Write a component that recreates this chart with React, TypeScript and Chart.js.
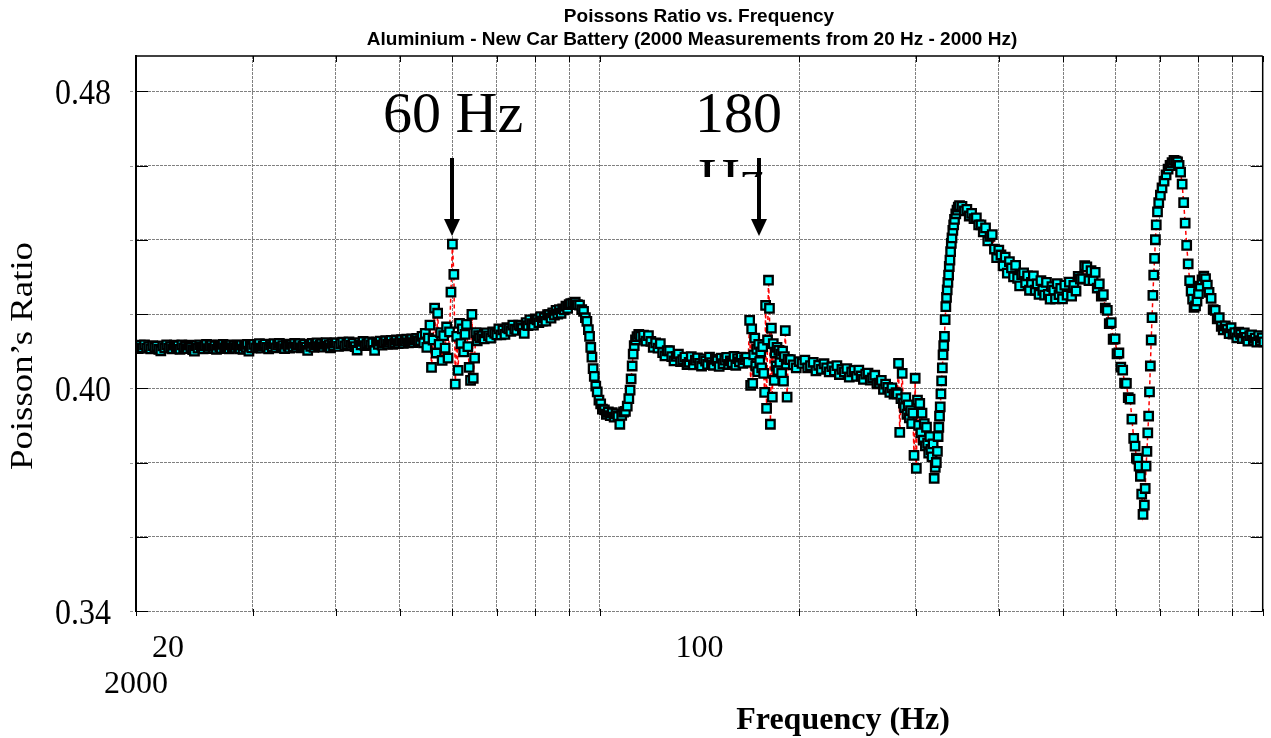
import React, { useEffect, useRef } from 'react';
import { Chart, registerables } from 'chart.js';

Chart.register(...registerables);

// ---------------- DATA (frequency in Hz, Poisson's ratio) ----------------
const lowFreq = [
  20.00, 20.15, 20.30, 20.45, 20.60, 20.75, 20.90, 21.05, 21.20, 21.35,
  21.50, 21.65, 21.80, 21.95, 22.10, 22.25, 22.40, 22.55, 22.70, 22.85,
  23.00, 23.15, 23.30, 23.45, 23.60, 23.75, 23.90, 24.05, 24.20, 24.35,
  24.50, 24.65, 24.80, 24.95, 25.10, 25.25, 25.40, 25.55, 25.70, 25.85,
  26.00, 26.15, 26.30, 26.45, 26.60, 26.75, 26.90, 27.05, 27.20, 27.35,
  27.50, 27.65, 27.80, 27.95, 28.10, 28.25, 28.40, 28.55, 28.70, 28.85,
  29.00, 29.15, 29.30, 29.45, 29.60, 29.75, 29.90,
  30.10, 30.30, 30.50, 30.70, 30.90, 31.10, 31.30, 31.50, 31.70, 31.90,
  32.10, 32.30, 32.50, 32.70, 32.90, 33.10, 33.30, 33.50, 33.70, 33.90,
  34.10, 34.30, 34.50, 34.70, 34.90, 35.10, 35.30, 35.50, 35.70, 35.90,
  36.10, 36.30, 36.50, 36.70, 36.90, 37.10, 37.30, 37.50, 37.70, 37.90,
  38.10, 38.30, 38.50, 38.70, 38.90, 39.10, 39.30, 39.50, 39.70, 39.90,
  40.1, 40.4, 40.7, 41.0, 41.3, 41.6, 41.9, 42.2, 42.5, 42.8,
  43.1, 43.4, 43.7, 44.0, 44.3, 44.6, 44.9, 45.2, 45.5, 45.8,
  46.1, 46.4, 46.7, 47.0, 47.3, 47.6, 47.9, 48.2, 48.5, 48.8,
  49.1, 49.4, 49.7, 50.0, 50.3, 50.6, 50.9, 51.2, 51.5, 51.8,
  52.1, 52.4, 52.7, 53.0, 53.3,
];
const lowVal = [
  0.4114, 0.4107, 0.4116, 0.4109, 0.4117, 0.4108, 0.4112, 0.4106, 0.4115, 0.4110,
  0.4113, 0.4105, 0.4101, 0.4114, 0.4109, 0.4117, 0.4108, 0.4112, 0.4106, 0.4116,
  0.4110, 0.4114, 0.4105, 0.4117, 0.4109, 0.4113, 0.4107, 0.4116, 0.4110, 0.4104,
  0.4100, 0.4115, 0.4108, 0.4117, 0.4111, 0.4106, 0.4114, 0.4118, 0.4107, 0.4113,
  0.4117, 0.4108, 0.4114, 0.4105, 0.4116, 0.4111, 0.4107, 0.4118, 0.4109, 0.4115,
  0.4110, 0.4106, 0.4117, 0.4109, 0.4114, 0.4108, 0.4116, 0.4111, 0.4106, 0.4117,
  0.4105, 0.4115, 0.4110, 0.4118, 0.4100, 0.4113, 0.4109,
  0.4118, 0.4109, 0.4115, 0.4120, 0.4108, 0.4114, 0.4119, 0.4110, 0.4106, 0.4117,
  0.4112, 0.4120, 0.4109, 0.4116, 0.4121, 0.4111, 0.4115, 0.4107, 0.4119, 0.4113,
  0.4108, 0.4118, 0.4112, 0.4121, 0.4110, 0.4116, 0.4120, 0.4109, 0.4114, 0.4119,
  0.4111, 0.4102, 0.4118, 0.4113, 0.4121, 0.4110, 0.4117, 0.4122, 0.4112, 0.4116,
  0.4120, 0.4111, 0.4118, 0.4123, 0.4113, 0.4117, 0.4109, 0.4121, 0.4115, 0.4122,
  0.4122, 0.4113, 0.4120, 0.4124, 0.4114, 0.4119, 0.4125, 0.4116, 0.4121, 0.4112,
  0.4103, 0.4123, 0.4117, 0.4126, 0.4115, 0.4120, 0.4125, 0.4117, 0.4122, 0.4102,
  0.4124, 0.4118, 0.4127, 0.4116, 0.4122, 0.4128, 0.4119, 0.4124, 0.4129, 0.4118,
  0.4123, 0.4130, 0.4120, 0.4126, 0.4131, 0.4121, 0.4127, 0.4132, 0.4122, 0.4128,
  0.4133, 0.4123, 0.4130, 0.4134, 0.4127,
];

const hum60Freq = [
  53.7, 54.0, 54.3, 54.6, 54.9, 55.2, 55.5, 55.8, 56.1, 56.4,
  56.7, 57.0, 57.3, 57.6, 57.9, 58.2, 58.5, 58.8, 59.1, 59.4,
  59.7, 60.0, 60.3, 60.6, 60.9, 61.2, 61.5, 61.8, 62.1, 62.4,
  62.7, 63.0, 63.3, 63.6, 63.9, 64.2, 64.5, 64.8, 65.1, 65.4,
  65.7, 66.0,
];
const hum60Val = [
  0.4128, 0.4140, 0.4122, 0.4148, 0.4110, 0.4135, 0.4170, 0.4056, 0.4130, 0.4216,
  0.4095, 0.4202, 0.4118, 0.4150, 0.4075, 0.4142, 0.4108, 0.4165, 0.4081, 0.4152,
  0.4259, 0.4388, 0.4307, 0.4011, 0.4140, 0.4048, 0.4175, 0.4120, 0.4160, 0.4098,
  0.4145, 0.4172, 0.4112, 0.4056, 0.4021, 0.4199, 0.4027, 0.4081, 0.4150, 0.4128,
  0.4142, 0.4136,
];

const riseAFreq = [
  66.5, 67.0, 67.5, 68.0, 68.5, 69.0, 69.5, 70.0, 70.5, 71.0,
  71.5, 72.0, 72.5, 73.0, 73.5, 74.0, 74.5, 75.0, 75.5, 76.0,
  76.5, 77.0, 77.5, 78.0, 78.5, 79.0, 79.5, 80.0, 80.5, 81.0,
  81.5, 82.0, 82.5, 83.0, 83.5, 84.0, 84.5, 85.0, 85.5, 86.0,
  86.5, 87.0, 87.5, 88.0, 88.5, 89.0, 89.5, 90.0, 90.5,
];
const riseAVal = [
  0.4141, 0.4133, 0.4149, 0.4141, 0.4135, 0.4152, 0.4148, 0.4144, 0.4160, 0.4144,
  0.4157, 0.4145, 0.4163, 0.4160, 0.4153, 0.4170, 0.4159, 0.4156, 0.4170, 0.4168,
  0.4161, 0.4148, 0.4177, 0.4169, 0.4184, 0.4174, 0.4170, 0.4187, 0.4184, 0.4177,
  0.4193, 0.4181, 0.4190, 0.4181, 0.4198, 0.4198, 0.4189, 0.4203, 0.4197, 0.4210,
  0.4200, 0.4212, 0.4202, 0.4214, 0.4211, 0.4221, 0.4215, 0.4225, 0.4228,
];

const dipAFreq = [
  91.2, 91.9, 92.6, 93.3, 94.0, 94.6, 95.2, 95.7, 96.2, 96.6,
  97.0, 97.4, 97.8, 98.2, 98.7, 99.2, 99.8, 100.4, 101.0, 101.7,
  102.4, 103.1, 103.8, 104.5, 105.2, 105.9, 106.6, 107.3, 108.0, 108.7,
  109.4, 110.1, 110.7, 111.2, 111.6, 112.0, 112.4, 112.8, 113.3, 113.9,
  114.6, 115.3,
];
const dipAVal = [
  0.4229, 0.4232, 0.4225, 0.4224, 0.4212, 0.4207, 0.4190, 0.4180, 0.4158, 0.4140,
  0.4110, 0.4084, 0.4053, 0.4032, 0.4006, 0.3990, 0.3968, 0.3958, 0.3944, 0.3942,
  0.3930, 0.3936, 0.3926, 0.3934, 0.3922, 0.3931, 0.3924, 0.3903, 0.3927, 0.3936,
  0.3938, 0.3952, 0.3972, 0.3995, 0.4025, 0.4060, 0.4092, 0.4115, 0.4130, 0.4139,
  0.4145, 0.4140,
];

const plateauFreq = [
  116.5, 117.5, 118.5, 119.5, 120.5, 121.5, 122.5, 123.5, 124.5, 125.5,
  126.5, 127.5, 128.5, 129.5, 130.5, 131.5, 132.5, 133.5, 134.5, 135.5,
  136.5, 137.5, 138.5, 139.5, 140.5, 141.5, 142.5, 143.5, 144.5, 145.5,
  146.5, 147.5, 148.5, 149.5, 150.5, 151.5, 152.5, 153.5, 154.5, 155.5,
  156.5, 157.5, 158.5, 159.5, 160.5, 161.5, 162.5, 163.5, 164.5, 165.5,
  166.5, 167.5,
];
const plateauVal = [
  0.4143, 0.4127, 0.4142, 0.4126, 0.4110, 0.4122, 0.4108, 0.4120, 0.4096, 0.4087,
  0.4101, 0.4101, 0.4085, 0.4074, 0.4086, 0.4092, 0.4072, 0.4077, 0.4084, 0.4064,
  0.4070, 0.4085, 0.4063, 0.4076, 0.4082, 0.4067, 0.4060, 0.4079, 0.4073, 0.4064,
  0.4084, 0.4069, 0.4062, 0.4078, 0.4074, 0.4059, 0.4081, 0.4066, 0.4076, 0.4083,
  0.4064, 0.4074, 0.4069, 0.4086, 0.4062, 0.4080, 0.4071, 0.4084, 0.4067, 0.4077,
  0.4083, 0.4070,
];

const hum180Freq = [
  168.4, 169.0, 169.6, 170.2, 170.8, 171.4, 172.0, 172.6, 173.2, 173.8,
  174.4, 175.0, 175.6, 176.2, 176.8, 177.4, 178.0, 178.6, 179.2, 179.8,
  180.4, 181.0, 181.6, 182.2, 182.8, 183.4, 184.0, 184.6, 185.2, 185.8,
  186.4, 187.0, 187.6, 188.2, 188.8, 189.4, 190.0, 190.6, 191.2, 191.8,
  192.4,
];
const hum180Val = [
  0.4183, 0.4008, 0.4160, 0.4013, 0.4090, 0.4135, 0.4060, 0.4105, 0.4045, 0.4118,
  0.4072, 0.4098, 0.4055, 0.4112, 0.4040, 0.3989, 0.4223, 0.3946, 0.4130, 0.4291,
  0.4215, 0.3903, 0.4162, 0.3976, 0.4120, 0.4021, 0.4095, 0.4060, 0.4110, 0.4048,
  0.4102, 0.4070, 0.4092, 0.4040, 0.4100, 0.4019, 0.4085, 0.4155, 0.4065, 0.3976,
  0.4078,
];

const slopeFreq = [
  194, 196, 198, 200, 202, 204, 206, 208, 210, 212,
  214, 216, 218, 220, 222, 224, 226, 228, 230, 232,
  234, 236, 238, 240, 242, 244, 246, 248, 250, 252,
  254, 256, 258, 260, 262, 264, 266, 268, 270, 272,
  274, 276, 278, 280,
];
const slopeVal = [
  0.4077, 0.4063, 0.4055, 0.4072, 0.4067, 0.4076, 0.4055, 0.4061, 0.4070, 0.4047,
  0.4062, 0.4051, 0.4066, 0.4055, 0.4044, 0.4058, 0.4047, 0.4061, 0.4037, 0.4051,
  0.4044, 0.4053, 0.4030, 0.4044, 0.4048, 0.4032, 0.4049, 0.4033, 0.4024, 0.4038,
  0.4041, 0.4022, 0.4028, 0.4035, 0.4012, 0.4014, 0.4021, 0.3997, 0.4011, 0.4002,
  0.3989, 0.4001, 0.3984, 0.3988,
];

const scatterFreq = [
  281.2, 282.4, 283.6, 284.8, 286.0, 287.2, 288.4, 289.6, 290.8, 292.0,
  293.2, 294.4, 295.6, 296.8, 298.0, 299.2, 300.4, 301.6, 302.8, 304.0,
  305.2, 306.4, 307.6, 308.8, 310.0, 311.2, 312.4, 313.6, 314.8, 316.0,
  317.2, 318.4, 319.6, 320.8, 322.0, 323.2,
];
const scatterVal = [
  0.3985, 0.4067, 0.3881, 0.3972, 0.4040, 0.3960, 0.3948, 0.3975, 0.3930, 0.3955,
  0.3920, 0.3940, 0.3905, 0.3933, 0.3819, 0.4027, 0.3784, 0.3968, 0.3900, 0.3959,
  0.3880, 0.3933, 0.3860, 0.3905, 0.3845, 0.3895, 0.3852, 0.3825, 0.3870, 0.3835,
  0.3815, 0.3850, 0.3757, 0.3787, 0.3800, 0.3830,
];

const riseBFreq = [
  324.0, 324.8, 325.6, 326.4, 327.2, 328.0, 328.8, 329.6, 330.4, 331.2,
  332.0, 332.8, 333.6, 334.4, 335.2, 336.0, 336.8, 337.6, 338.4, 339.2,
  340.0, 341.0, 342.0, 343.0, 344.5, 346.0, 347.5, 349.0,
];
const riseBVal = [
  0.3870, 0.3895, 0.3925, 0.3950, 0.3985, 0.4020, 0.4055, 0.4090, 0.4115, 0.4140,
  0.4185, 0.4220, 0.4245, 0.4265, 0.4285, 0.4305, 0.4328, 0.4345, 0.4368, 0.4390,
  0.4405, 0.4425, 0.4440, 0.4455, 0.4470, 0.4480, 0.4488, 0.4492,
];

const declineFreq = [
  352, 355, 358, 361, 364, 367, 370, 373, 376, 379,
  382, 385, 388, 391, 394, 397, 400, 403, 406, 409,
  412, 415, 418, 421, 424, 427, 430, 433, 436, 439,
  442, 445, 448, 451, 454, 457, 460, 463, 466, 469,
  472, 475, 478, 481, 484, 487, 490, 493, 496, 499,
  503, 507, 511, 515, 519, 523, 527, 531, 535, 539,
  543, 547, 551, 555, 559, 563, 567, 571, 575, 579,
  583, 587, 591, 595, 599, 603, 607, 611, 615, 619,
  623, 627, 631, 635, 639,
  642, 645, 648, 651, 654, 657, 660,
];
const declineVal = [
  0.4490, 0.4478, 0.4482, 0.4464, 0.4471, 0.4457, 0.4459, 0.4440, 0.4440, 0.4421,
  0.4432, 0.4397, 0.4409, 0.4414, 0.4375, 0.4352, 0.4372, 0.4359, 0.4330, 0.4353,
  0.4310, 0.4341, 0.4324, 0.4300, 0.4331, 0.4296, 0.4276, 0.4306, 0.4311, 0.4284,
  0.4303, 0.4264, 0.4285, 0.4303, 0.4264, 0.4281, 0.4253, 0.4290, 0.4264, 0.4251,
  0.4285, 0.4253, 0.4240, 0.4274, 0.4264, 0.4241, 0.4282, 0.4252, 0.4269, 0.4241,
  0.4278, 0.4251, 0.4286, 0.4248, 0.4277, 0.4262, 0.4301, 0.4294, 0.4295, 0.4330,
  0.4327, 0.4290, 0.4317, 0.4290, 0.4312, 0.4270, 0.4281, 0.4248, 0.4252, 0.4216,
  0.4210, 0.4174, 0.4177, 0.4132, 0.4133, 0.4093, 0.4095, 0.4057, 0.4049, 0.4014,
  0.4013, 0.3975, 0.3971, 0.3917, 0.3865,
  0.3844, 0.3812, 0.3809, 0.3790, 0.3763, 0.3715, 0.3660,
];

const riseCFreq = [
  663, 665, 667, 669, 671, 673, 675, 677, 679, 681,
  683, 685, 687, 689, 691, 694, 697, 701, 705, 710,
  715, 720, 725, 730, 735, 740,
];
const riseCVal = [
  0.3685, 0.3730, 0.3790, 0.3830, 0.3880, 0.3925, 0.3990, 0.4060, 0.4130, 0.4190,
  0.4250, 0.4305, 0.4350, 0.4400, 0.4440, 0.4475, 0.4500, 0.4520, 0.4540, 0.4558,
  0.4575, 0.4590, 0.4600, 0.4608, 0.4614, 0.4612,
];

const tailFreq = [
  744, 748, 752, 756, 760, 764, 768, 772, 776, 780,
  784, 788, 792, 796, 800, 805, 810, 815, 820, 825,
  830, 836, 842, 848, 854, 860, 866, 872, 878, 884,
  890, 896, 902, 908, 914, 920, 926, 932, 938, 944,
  950, 956, 962, 968, 974, 980, 986, 992, 998, 1004,
];
const tailVal = [
  0.4610, 0.4600, 0.4582, 0.4550, 0.4500, 0.4445, 0.4385, 0.4335, 0.4290, 0.4262,
  0.4240, 0.4218, 0.4222, 0.4235, 0.4255, 0.4275, 0.4292, 0.4302, 0.4295, 0.4278,
  0.4258, 0.4242, 0.4212, 0.4210, 0.4187, 0.4190, 0.4167, 0.4157, 0.4168, 0.4159,
  0.4147, 0.4163, 0.4146, 0.4150, 0.4136, 0.4151, 0.4145, 0.4134, 0.4149, 0.4137,
  0.4127, 0.4142, 0.4144, 0.4129, 0.4135, 0.4124, 0.4142, 0.4128, 0.4136, 0.4125,
];

// axes
const xGridValues = [20, 30, 40, 50, 60, 70, 80, 90, 100, 200, 300, 400, 500, 600, 700, 800, 900, 1000];
const yGridValues = [0.34, 0.36, 0.38, 0.40, 0.42, 0.44, 0.46, 0.48];
const yTickValues = [0.48, 0.40, 0.34];
const yTickLabels = ['0.48', '0.40', '0.34'];
const xTickLabels = ['20', '100', '2000'];
const titleLines = [
  'Poissons Ratio vs. Frequency',
  'Aluminium - New Car Battery (2000 Measurements from 20 Hz - 2000 Hz)',
];
const xAxisTitle = 'Frequency (Hz)';
const yAxisTitle = 'Poisson\u2019s Ratio';
const annotationFreqs = [60, 174];

const segments: [number[], number[]][] = [
  [lowFreq, lowVal],
  [hum60Freq, hum60Val],
  [riseAFreq, riseAVal],
  [dipAFreq, dipAVal],
  [plateauFreq, plateauVal],
  [hum180Freq, hum180Val],
  [slopeFreq, slopeVal],
  [scatterFreq, scatterVal],
  [riseBFreq, riseBVal],
  [declineFreq, declineVal],
  [riseCFreq, riseCVal],
  [tailFreq, tailVal],
];

const SERIF = '"Liberation Serif", "Times New Roman", serif';
const SANS = '"Liberation Sans", Arial, sans-serif';

const overlayPlugin = {
  id: 'overlay',
  afterDatasetsDraw(chart: any) {
    const { ctx, chartArea: a, scales } = chart;
    const xs = scales.x;
    const ys = scales.y;
    const seg = (x1: number, y1: number, x2: number, y2: number) => {
      ctx.beginPath();
      ctx.moveTo(x1, y1);
      ctx.lineTo(x2, y2);
      ctx.stroke();
    };
    ctx.save();
    ctx.setLineDash([]);
    ctx.strokeStyle = '#000';
    // frame
    ctx.lineWidth = 2;
    seg(a.left, a.top - 1, a.left, a.bottom + 1);
    ctx.lineWidth = 1.5;
    seg(a.left, a.top, a.right, a.top);
    seg(a.right, a.top, a.right, a.bottom);
    // tick marks
    ctx.lineWidth = 1;
    xGridValues.forEach((v) => {
      const px = Math.round(xs.getPixelForValue(v)) + 0.5;
      seg(px, a.top, px, a.top + 6);
      seg(px, a.bottom - 2, px, a.bottom + 5);
    });
    yGridValues.forEach((v) => {
      const py = Math.round(ys.getPixelForValue(v)) + 0.5;
      seg(a.left, py, a.left + 12, py);
      seg(a.right - 12, py, a.right, py);
      ctx.strokeStyle = '#999';
      seg(a.left - 6, py, a.left - 3, py);
      ctx.strokeStyle = '#000';
    });
    ctx.restore();
  },
  afterDraw(chart: any) {
    const { ctx, chartArea: a, scales } = chart;
    const xs = scales.x;
    const ys = scales.y;
    ctx.save();
    ctx.fillStyle = '#000';
    // title
    ctx.font = `bold 19px ${SANS}`;
    ctx.textAlign = 'center';
    ctx.textBaseline = 'alphabetic';
    ctx.fillText(titleLines[0], 699, 22);
    ctx.fillText(titleLines[1], 692, 45);

    // y tick labels
    ctx.font = `32px ${SERIF}`;
    ctx.textAlign = 'right';
    ctx.textBaseline = 'middle';
    yTickValues.forEach((v, i) => {
      ctx.save();
      const py = ys.getPixelForValue(v) + 3;
      ctx.translate(a.left - 25, py);
      ctx.scale(1, 1.15);
      ctx.fillText(yTickLabels[i], 0, 0);
      ctx.restore();
    });

    // x tick labels (as placed in the original export)
    ctx.textAlign = 'center';
    ctx.textBaseline = 'alphabetic';
    ctx.fillText(xTickLabels[0], a.left + 32, a.bottom + 46);
    ctx.fillText(xTickLabels[1], xs.getPixelForValue(100) + 100, a.bottom + 46);
    ctx.fillText(xTickLabels[2], a.left, a.bottom + 82);

    // x axis title
    ctx.font = `bold 32px ${SERIF}`;
    ctx.fillText(xAxisTitle, 843, a.bottom + 118);

    // y axis title
    ctx.save();
    ctx.translate(24, 356);
    ctx.rotate(-Math.PI / 2);
    ctx.scale(1.15, 1);
    ctx.font = `32px ${SERIF}`;
    ctx.textAlign = 'center';
    ctx.textBaseline = 'middle';
    ctx.fillText(yAxisTitle, 0, 0);
    ctx.restore();

    // annotations
    ctx.font = `58px ${SERIF}`;
    ctx.textAlign = 'left';
    ctx.textBaseline = 'alphabetic';
    ctx.fillText('60 Hz', 383, 132);
    ctx.fillText('180', 695, 132);
    ctx.save();
    ctx.beginPath();
    ctx.rect(680, 140, 120, 37);
    ctx.clip();
    ctx.fillText('Hz', 698, 198);
    ctx.restore();

    // arrows
    annotationFreqs.forEach((f) => {
      const px = Math.round(xs.getPixelForValue(f));
      ctx.fillRect(px - 2, 158, 4, 64);
      ctx.beginPath();
      ctx.moveTo(px - 8, 219);
      ctx.lineTo(px + 8, 219);
      ctx.lineTo(px, 236);
      ctx.closePath();
      ctx.fill();
    });
    ctx.restore();
  },
};

export default function App() {
  const canvasRef = useRef<HTMLCanvasElement | null>(null);

  useEffect(() => {
    document.body.style.margin = '0';
    document.body.style.overflow = 'hidden';
    const canvas = canvasRef.current;
    if (!canvas) return;
    const points = segments.flatMap(([f, v]) => f.map((x, i) => ({ x, y: v[i] })));
    const chart = new Chart(canvas, {
      type: 'line',
      data: {
        datasets: [
          {
            data: points,
            borderColor: '#ff0000',
            borderWidth: 1.5,
            borderDash: [4, 3],
            pointStyle: 'rect',
            pointRadius: 6,
            pointHoverRadius: 6,
            pointBorderWidth: 2.3,
            pointBorderColor: '#000000',
            pointBackgroundColor: '#00ffff',
            tension: 0,
            fill: false,
            clip: 0,
          } as any,
        ],
      },
      options: {
        responsive: false,
        animation: false,
        devicePixelRatio: 1,
        events: [],
        layout: { padding: { left: 136, right: 4, top: 56, bottom: 127 } },
        plugins: {
          legend: { display: false },
          title: { display: false },
          tooltip: { enabled: false },
        },
        scales: {
          x: {
            type: 'logarithmic',
            min: 20,
            max: 1000,
            afterBuildTicks: (s: any) => {
              s.ticks = xGridValues.map((v) => ({ value: v }));
            },
            ticks: { display: false },
            grid: { color: '#808080', lineWidth: 1, drawTicks: false },
            border: { display: false, dash: [3, 1] },
          },
          y: {
            type: 'linear',
            min: 0.34,
            max: 0.4895,
            afterBuildTicks: (s: any) => {
              s.ticks = yGridValues.map((v) => ({ value: v }));
            },
            ticks: { display: false },
            grid: { color: '#808080', lineWidth: 1, drawTicks: false },
            border: { display: false, dash: [3, 1] },
          },
        },
      } as any,
      plugins: [overlayPlugin],
    });
    return () => chart.destroy();
  }, []);

  return (
    <div style={{ width: 1271, height: 738, position: 'relative', background: '#fff' }}>
      <canvas ref={canvasRef} width={1271} height={738} style={{ display: 'block' }} />
    </div>
  );
}
